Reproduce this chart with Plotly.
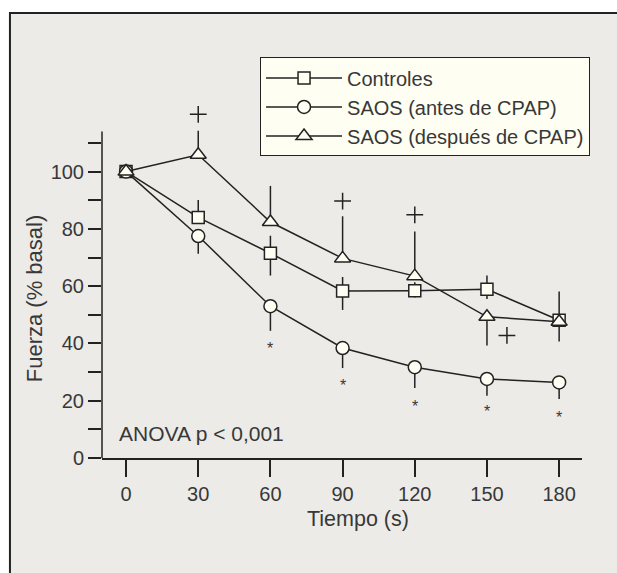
import plotly.graph_objects as go

# ---------------- data ----------------
time_s = [0, 30, 60, 90, 120, 150, 180]

controles = [100, 84.0, 71.5, 58.3, 58.4, 58.9, 48.1]
controles_err_up = [0, 6.1, 6.1, 4.9, 3.0, 4.8, 0]
controles_err_down = [0, 0, 7.8, 6.6, 2.4, 3.4, 7.4]

saos_antes = [100, 77.5, 53.0, 38.4, 31.7, 27.6, 26.4]
saos_antes_err_up = [0, 0, 0, 0, 0, 0, 0]
saos_antes_err_down = [0, 6.2, 8.6, 7.0, 7.3, 5.9, 5.8]

saos_despues = [100, 105.9, 82.4, 69.7, 63.5, 49.3, 47.6]
saos_despues_err_up = [0, 8.4, 12.6, 14.7, 15.6, 0, 10.5]
saos_despues_err_down = [0, 0, 0, 0, 0, 10.0, 0]

series_names = ["Controles", "SAOS (antes de CPAP)", "SAOS (después de CPAP)"]

# significance marks (data coordinates)
plus_x = [30, 90, 120, 158.3]
plus_y = [120, 89.7, 84.9, 42.8]
star_x = [60, 90, 120, 150, 180]
star_y = [39.6, 26.6, 19.4, 17.7, 15.7]

x_ticks = [0, 30, 60, 90, 120, 150, 180]
y_ticks = [0, 10, 20, 30, 40, 50, 60, 70, 80, 90, 100, 110]
y_ticktext = ["0", "", "20", "", "40", "", "60", "", "80", "", "100", ""]
y_axis_top = 114

# ---------------- style ----------------
INK = "#222222"
TXT = "#383838"
BG = "#ECEBE7"
CREAM = "#FFFEF2"
FONT = "Liberation Sans, Arial, Helvetica, sans-serif"

W, H = 617, 573
Y_RANGE = [0, 125]
X_RANGE = [-10, 189.5]
X_AXIS_PX = 458.3                      # pixel row of the x axis
PX_PER_UNIT = 326.7 / 114.0
L, R = 101.7, 34.5
B = H - X_AXIS_PX
T = X_AXIS_PX - Y_RANGE[1] * PX_PER_UNIT
PW, PH = W - L - R, H - T - B


def px_to_paper(px, py):
    return (px - L) / PW, (H - B - py) / PH


fig = go.Figure()

specs = [
    (controles, controles_err_up, controles_err_down, "square", 12),
    (saos_antes, saos_antes_err_up, saos_antes_err_down, "circle", 13),
    (saos_despues, saos_despues_err_up, saos_despues_err_down, "triangle-up", 14),
]
for name, (vals, eu, ed, sym, sz) in zip(series_names, specs):
    fig.add_trace(go.Scatter(
        x=time_s, y=vals, name=name, mode="lines+markers",
        line=dict(color=INK, width=1.5),
        marker=dict(symbol=sym, size=sz, color=CREAM, line=dict(color=INK, width=1.5)),
        error_y=dict(type="data", symmetric=False, array=eu, arrayminus=ed,
                     width=0, thickness=1.5, color=INK),
        cliponaxis=False,
    ))

fig.add_trace(go.Scatter(
    x=plus_x, y=plus_y, mode="markers", showlegend=False, cliponaxis=False,
    marker=dict(symbol="cross-thin", size=12, color=INK, line=dict(color=INK, width=1.5)),
    hoverinfo="skip",
))

annotations = []
for sx, sy in zip(star_x, star_y):
    annotations.append(dict(x=sx, y=sy, xref="x", yref="y", text="*", showarrow=False,
                            xanchor="center", yanchor="middle", yshift=-4,
                            font=dict(family=FONT, size=16, color=TXT)))

annotations.append(dict(x=-3.8, y=8.7, xref="x", yref="y", text="ANOVA p < 0,001",
                        showarrow=False, xanchor="left", yanchor="middle",
                        font=dict(family=FONT, size=21, color=TXT)))

ax, ay = px_to_paper(358, 519.4)
annotations.append(dict(x=ax, y=ay, xref="paper", yref="paper", text="Tiempo (s)",
                        showarrow=False, xanchor="center", yanchor="middle",
                        font=dict(family=FONT, size=21.5, color=TXT)))
bx, by = px_to_paper(34, 298)
annotations.append(dict(x=bx, y=by, xref="paper", yref="paper", text="Fuerza (% basal)",
                        showarrow=False, xanchor="center", yanchor="middle", textangle=-90,
                        font=dict(family=FONT, size=22, color=TXT)))

fx0, fy0 = px_to_paper(9.5, 13)
fx1, fy1 = px_to_paper(660, 620)
shapes = [
    dict(type="rect", xref="paper", yref="paper", x0=fx0, y0=fy1, x1=fx1, y1=fy0,
         fillcolor=BG, line=dict(color=INK, width=2), layer="below"),
    # y axis spine (stops at 114, below the "+" mark above the 30 s point)
    dict(type="line", xref="paper", yref="y", x0=0, x1=0, y0=0, y1=y_axis_top,
         line=dict(color=INK, width=1.5), layer="below"),
]

lx, ly = px_to_paper(260, 57.5)

fig.update_layout(
    width=W, height=H,
    margin=dict(l=L, r=R, t=T, b=B, pad=0),
    paper_bgcolor="white", plot_bgcolor="rgba(0,0,0,0)",
    font=dict(family=FONT, size=20, color=TXT),
    showlegend=True,
    legend=dict(x=lx, y=ly, xanchor="left", yanchor="top",
                bgcolor=CREAM, bordercolor=INK, borderwidth=1,
                font=dict(family=FONT, size=20, color=TXT),
                itemwidth=76, tracegroupgap=0),
    xaxis=dict(range=X_RANGE, tickvals=x_ticks, ticktext=[str(v) for v in x_ticks],
               ticks="outside", ticklen=17, tickwidth=1.5, tickcolor=INK,
               showline=True, linecolor=INK, linewidth=1.5, showgrid=False, zeroline=False,
               tickfont=dict(family=FONT, size=20, color=TXT), fixedrange=True),
    yaxis=dict(range=Y_RANGE, tickvals=y_ticks, ticktext=y_ticktext,
               ticks="outside", ticklen=13, tickwidth=1.5, tickcolor=INK,
               showline=False, showgrid=False, zeroline=False,
               tickfont=dict(family=FONT, size=20, color=TXT), fixedrange=True),
    annotations=annotations,
    shapes=shapes,
)

fig.write_html("out.html", config={"displayModeBar": False},
               post_script="document.body.style.margin='0';")
